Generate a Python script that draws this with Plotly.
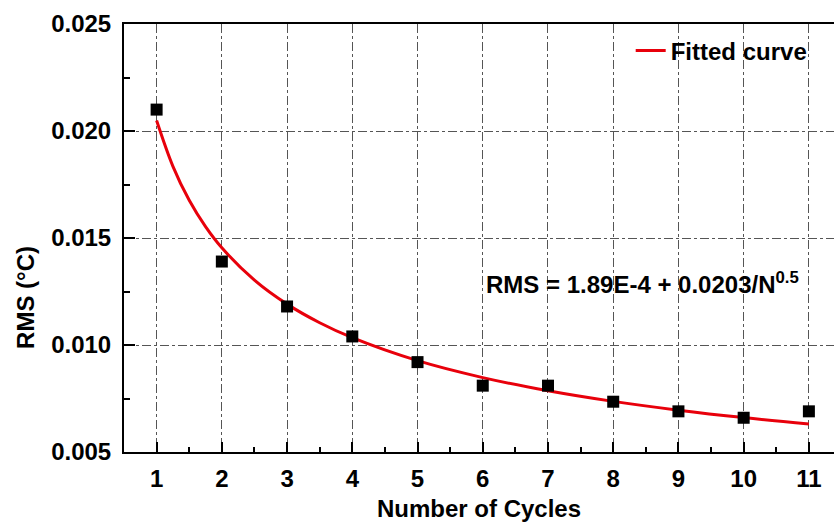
import plotly.graph_objects as go

cycles = [1, 2, 3, 4, 5, 6, 7, 8, 9, 10, 11]
rms = [0.0210, 0.0139, 0.0118, 0.0104, 0.0092, 0.0081, 0.0081, 0.00735, 0.0069, 0.0066, 0.0069]

fit_x = [1, 1.25, 1.5, 1.75, 2, 2.5, 3, 3.5, 4, 5, 6, 7, 8, 9, 10, 11]
fit_y = [0.02049, 0.01835, 0.01676, 0.01553, 0.01454, 0.01303, 0.01191, 0.01104,
         0.01034, 0.009267, 0.008476, 0.007862, 0.007366, 0.006956, 0.006608, 0.006310]

x_ticks = list(range(1, 12))
y_ticks = [0.005, 0.010, 0.015, 0.020, 0.025]
y_tick_labels = ["0.005", "0.010", "0.015", "0.020", "0.025"]

FONT = "Liberation Sans"
FS = 24

fig = go.Figure()
fig.add_trace(go.Scatter(x=fit_x, y=fit_y, mode="lines", name="Fitted curve",
                         line=dict(color="#e8000b", width=3, shape="spline")))
fig.add_trace(go.Scatter(x=cycles, y=rms, mode="markers", showlegend=False,
                         marker=dict(symbol="square", size=12, color="black")))

fig.update_layout(
    width=834, height=522,
    margin=dict(l=124, r=0, t=24, b=70),
    paper_bgcolor="white", plot_bgcolor="white",
    font=dict(family=FONT, size=FS, color="black", weight=700),
    legend=dict(x=0.97, y=0.99, xanchor="right", yanchor="top",
                bgcolor="rgba(0,0,0,0)", font=dict(size=FS, weight=700)),
    annotations=[dict(x=6.02, y=0.0129, xref="x", yref="y", xanchor="left", yanchor="middle",
                      text="RMS = 1.89E-4 + 0.0203/N<sup>0.5</sup>", showarrow=False,
                      font=dict(size=FS, weight=700)),
                 dict(x=-0.138, xref="paper", y=0.0122, yref="y", xanchor="center", yanchor="middle",
                      text="RMS (°C)", textangle=-90, showarrow=False,
                      font=dict(size=FS, weight=700))],
)

fig.update_xaxes(range=[0.5, 11.385], tickvals=x_ticks, ticks="inside", ticklen=10, tickwidth=2,
                 tickcolor="black", showline=True, linewidth=2, linecolor="black", mirror=True,
                 showgrid=True, gridcolor="#555555", gridwidth=1, griddash="dashdot",
                 zeroline=False, ticklabelstandoff=4,
                 minor=dict(tickvals=[i + 0.5 for i in range(1, 11)], ticks="inside", ticklen=5,
                            tickwidth=2, tickcolor="black", showgrid=False),
                 title=dict(text="Number of Cycles", standoff=11, font=dict(size=FS, weight=700)))
fig.update_yaxes(range=[0.005, 0.025], tickvals=y_ticks, ticktext=y_tick_labels, ticks="inside",
                 ticklen=11, tickwidth=2, tickcolor="black", showline=True, linewidth=2,
                 linecolor="black", mirror=False,
                 showgrid=True, gridcolor="#555555", gridwidth=1, griddash="dashdot",
                 zeroline=False, ticklabelstandoff=6,
                 minor=dict(tickvals=[0.0075, 0.0125, 0.0175, 0.0225], ticks="inside", ticklen=6,
                            tickwidth=2, tickcolor="black", showgrid=False))

fig.write_html("out.html")
